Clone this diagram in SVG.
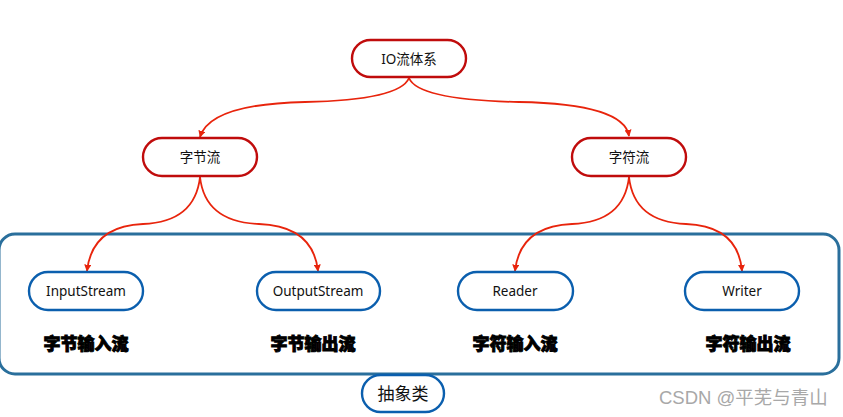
<svg xmlns="http://www.w3.org/2000/svg" width="843" height="417" viewBox="0 0 843 417">
<defs>
<style>
.rn{fill:#fff;stroke:#c00c0c;stroke-width:2.4}
.bn{fill:#fff;stroke:#0b5fae;stroke-width:2.4}
.t{font-family:"Noto Sans","Noto Sans CJK SC",sans-serif;font-size:13.5px;fill:#111;text-anchor:middle;dominant-baseline:central}
.b{font-family:"Noto Sans CJK SC",sans-serif;font-size:17px;font-weight:900;fill:#000;text-anchor:middle;dominant-baseline:central;stroke:#000;stroke-width:0.9}
.c{fill:none;stroke:#e8240c;stroke-width:1.8}
</style>
<marker id="ah" viewBox="0 0 10 10" refX="9" refY="5" markerWidth="7" markerHeight="7" markerUnits="userSpaceOnUse" orient="auto">
<path d="M0,0 L10,5 L0,10 z" fill="#e8240c"/>
</marker>
</defs>
<rect width="843" height="417" fill="#fff"/>
<g id="container">
<rect x="-1" y="234" width="840" height="140" rx="16" fill="none" stroke="#2a6f9c" stroke-width="3"/>
</g>
<g id="connectors">
<path class="c" d="M409,78 Q400,100 305,102 Q210,104 200,137" marker-end="url(#ah)"/>
<path class="c" d="M409,78 Q418,100 519,102 Q624,104 629,136" marker-end="url(#ah)"/>
<path class="c" d="M200,177 Q195,222 143,224 Q92,226 87,271" marker-end="url(#ah)"/>
<path class="c" d="M200,177 Q205,222 259,224 Q313,226 318,271" marker-end="url(#ah)"/>
<path class="c" d="M629,177 Q624,222 572,224 Q520,226 515,271" marker-end="url(#ah)"/>
<path class="c" d="M629,177 Q634,222 686,224 Q738,226 742,271" marker-end="url(#ah)"/>
</g>
<g id="io">
<rect class="rn" x="352" y="40" width="114" height="37" rx="18.5"/>
<text class="t" x="409" y="58.5">IO流体系</text>
</g>
<g id="byte">
<rect class="rn" x="143" y="138" width="114" height="38" rx="19"/>
<text class="t" x="200" y="157">字节流</text>
</g>
<g id="char">
<rect class="rn" x="572" y="138" width="114" height="38" rx="19"/>
<text class="t" x="629" y="157">字符流</text>
</g>
<g id="inputstream">
<rect class="bn" x="29" y="272" width="114" height="38" rx="19"/>
<text class="t" x="86" y="291">InputStream</text>
<text class="b" x="86" y="342">字节输入流</text>
</g>
<g id="outputstream">
<rect class="bn" x="257" y="272" width="123" height="38" rx="19"/>
<text class="t" x="318" y="291">OutputStream</text>
<text class="b" x="313" y="342">字节输出流</text>
</g>
<g id="reader">
<rect class="bn" x="458" y="272" width="115" height="38" rx="19"/>
<text class="t" x="515" y="291">Reader</text>
<text class="b" x="515" y="342">字符输入流</text>
</g>
<g id="writer">
<rect class="bn" x="685" y="272" width="114" height="38" rx="19"/>
<text class="t" x="742" y="291">Writer</text>
<text class="b" x="748" y="342">字符输出流</text>
</g>
<g id="abstract">
<rect class="bn" x="362" y="375" width="82" height="37" rx="18.5"/>
<text class="t" x="403" y="393.5" style="font-size:17px">抽象类</text>
</g>
<text x="659" y="397" style="font-family:'Liberation Sans','Noto Sans CJK SC',sans-serif;font-size:18.5px;fill:#a8a8a8;dominant-baseline:central">CSDN @平芜与青山</text>
</svg>
